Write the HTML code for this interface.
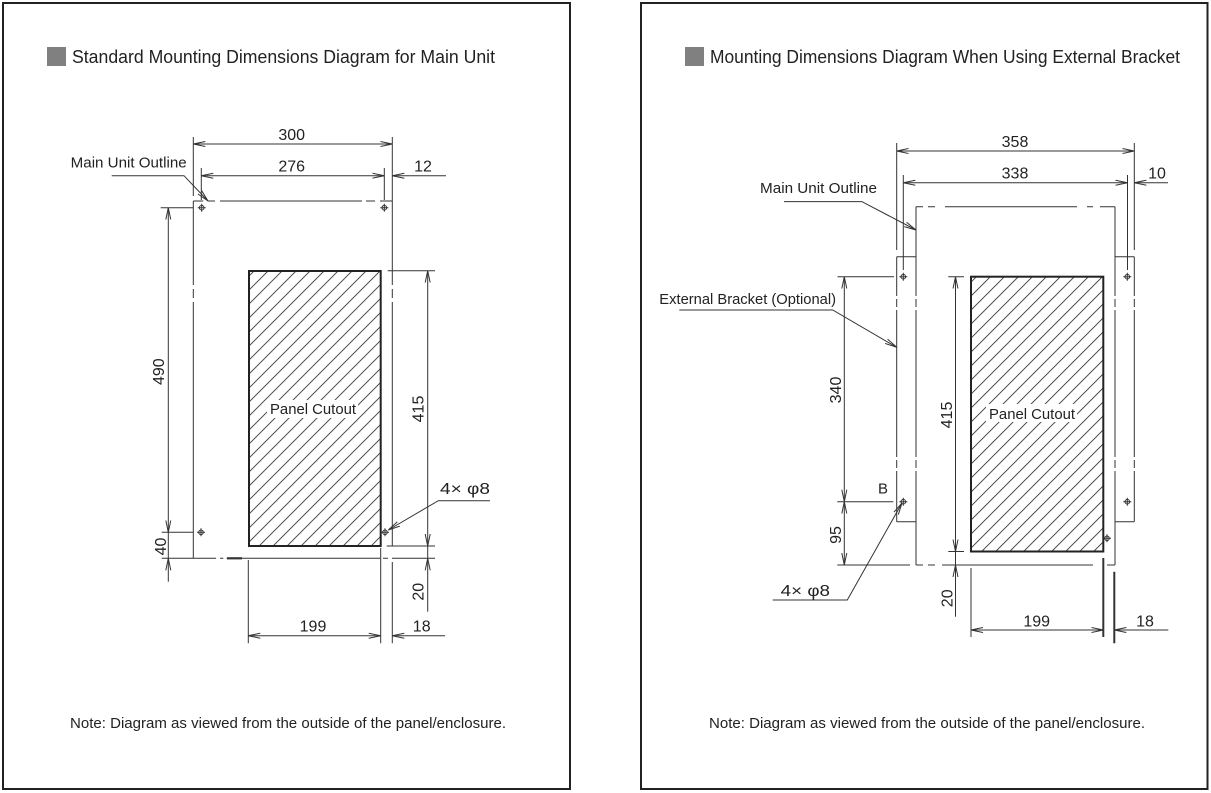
<!DOCTYPE html>
<html><head><meta charset="utf-8"><style>html,body{margin:0;padding:0;background:#fff}svg{display:block}</style></head>
<body>
<svg xmlns="http://www.w3.org/2000/svg" width="1211" height="793" viewBox="0 0 1211 793" font-family="'Liberation Sans', sans-serif" fill="#222">
<defs>
<marker id="ar" markerUnits="userSpaceOnUse" markerWidth="13" markerHeight="8" viewBox="0 0 13 8" refX="12" refY="4" orient="auto-start-reverse">
<path d="M0,1.5 L12,4 L0,6.5" fill="none" stroke="#333" stroke-width="1"/>
</marker>
<pattern id="h" width="9.9" height="10" patternUnits="userSpaceOnUse" patternTransform="rotate(45)">
<line x1="4.95" y1="-1" x2="4.95" y2="11" stroke="#333" stroke-width="0.9"/>
</pattern>
</defs>

<!-- frames -->
<rect x="3" y="3" width="567" height="786" fill="none" stroke="#222" stroke-width="2"/>
<rect x="641" y="3" width="566.5" height="786" fill="none" stroke="#222" stroke-width="2"/>

<!-- titles -->
<rect x="47" y="47" width="19" height="19" fill="#808080"/>
<text x="72" y="63" font-size="18" textLength="423" lengthAdjust="spacingAndGlyphs">Standard Mounting Dimensions Diagram for Main Unit</text>
<rect x="685" y="47" width="19" height="19" fill="#808080"/>
<text x="710" y="63" font-size="18" textLength="470" lengthAdjust="spacingAndGlyphs">Mounting Dimensions Diagram When Using External Bracket</text>

<!-- notes -->
<text x="70" y="728" font-size="15" textLength="436" lengthAdjust="spacingAndGlyphs">Note: Diagram as viewed from the outside of the panel/enclosure.</text>
<text x="709" y="728" font-size="15" textLength="436" lengthAdjust="spacingAndGlyphs">Note: Diagram as viewed from the outside of the panel/enclosure.</text>

<!-- ================= LEFT DIAGRAM ================= -->
<!-- cutout -->
<rect x="249" y="271" width="131.7" height="275" fill="url(#h)"/>
<rect x="267" y="400" width="91" height="18" fill="#fff"/>
<rect x="249" y="271" width="131.7" height="275" fill="none" stroke="#222" stroke-width="2"/>
<text x="270" y="414" font-size="15" textLength="86" lengthAdjust="spacingAndGlyphs">Panel Cutout</text>

<g stroke="#333" stroke-width="1" fill="none">
<!-- outline phantom -->
<path d="M193.3,201H203.3 M208,201H215 M220,201H362 M366,201H375 M380,201H392.3"/>
<path d="M193.3,201V285 M193.3,289V298 M193.3,302V558.3"/>
<path d="M392.3,201V285 M392.3,289V298 M392.3,302V546 M392.3,562V643.3"/>
<path d="M161.7,558.3H216 M220,558.3H223.3 M226.7,558.3H380 M383,558.3H388 M392,558.3H435"/>
<path d="M227,558.3H242" stroke-width="2.2"/>

<!-- top dims -->
<path d="M193.3,137V196 M392.3,137V201 M201.3,168V200 M384.3,168V200"/>
<path d="M193.3,144H392.3" marker-start="url(#ar)" marker-end="url(#ar)"/>
<path d="M201.3,175.7H384.3" marker-start="url(#ar)" marker-end="url(#ar)"/>
<path d="M446,175.7H392.3" marker-end="url(#ar)"/>
<path d="M111.7,175.7H184L208,201" marker-end="url(#ar)"/>

<!-- 490 / 40 -->
<path d="M160.7,207.7H193.3 M161.7,532.3H193.3"/>
<path d="M168.3,207.7V532.3" marker-start="url(#ar)" marker-end="url(#ar)"/>
<path d="M168.3,532.3V558.3"/>
<path d="M168.3,581.7V558.3" marker-end="url(#ar)"/>

<!-- 415 / 20 -->
<path d="M387.7,270.7H435 M386.7,546H435"/>
<path d="M427.7,270.7V546" marker-start="url(#ar)" marker-end="url(#ar)"/>
<path d="M427.7,546V558.3"/>
<path d="M427.7,611.7V558.3" marker-end="url(#ar)"/>

<!-- 199 / 18 -->
<path d="M248.3,560V643.3 M380.7,548V643.3"/>
<path d="M248.3,635.7H380.7" marker-start="url(#ar)" marker-end="url(#ar)"/>
<path d="M445,635.7H392.3" marker-end="url(#ar)"/>

<!-- 4xphi8 leader -->
<path d="M490,500.7H438.3L388.3,530" marker-end="url(#ar)"/>

<!-- holes -->
<circle cx="201.7" cy="207.7" r="2.3"/><path d="M197.7,207.7H205.7M201.7,203.7V211.7"/>
<circle cx="384.3" cy="207.7" r="2.3"/><path d="M380.3,207.7H388.3M384.3,203.7V211.7"/>
<circle cx="201" cy="532.3" r="2.3"/><path d="M197,532.3H205M201,528.3V536.3"/>
<circle cx="385" cy="532.3" r="2.3"/><path d="M381,532.3H389M385,528.3V536.3"/>
</g>

<!-- left labels -->
<text x="70.7" y="167.3" font-size="15" textLength="116" lengthAdjust="spacingAndGlyphs">Main Unit Outline</text>
<g font-size="16" text-anchor="middle">
<text x="291.7" y="140">300</text>
<text x="291.7" y="171.5">276</text>
<text x="423" y="171.5">12</text>
<text x="313" y="631.5">199</text>
<text x="421.7" y="631.5">18</text>
<text transform="translate(158,371.7) rotate(-90)" dy="0.36em">490</text>
<text transform="translate(160,546.5) rotate(-90)" dy="0.36em">40</text>
<text transform="translate(417.7,409) rotate(-90)" dy="0.36em">415</text>
<text transform="translate(417.7,591.7) rotate(-90)" dy="0.36em">20</text>
</g>
<text x="440" y="494" font-size="16" textLength="50" lengthAdjust="spacingAndGlyphs">4× φ8</text>

<!-- ================= RIGHT DIAGRAM ================= -->
<rect x="971" y="276.7" width="132.3" height="274.8" fill="url(#h)"/>
<rect x="986" y="404" width="91" height="18" fill="#fff"/>
<rect x="971" y="276.7" width="132.3" height="274.8" fill="none" stroke="#222" stroke-width="2"/>
<text x="989" y="419" font-size="15" textLength="86" lengthAdjust="spacingAndGlyphs">Panel Cutout</text>

<g stroke="#333" stroke-width="1" fill="none">
<!-- main unit outline phantom -->
<path d="M916,206.7H923 M928,206.7H935 M945,206.7H1077 M1087,206.7H1093 M1100,206.7H1115"/>
<path d="M916,206.7V296 M916,299V307 M916,310V457 M916,460V468 M916,471V565"/>
<path d="M1115,206.7V296 M1115,299V307 M1115,310V457 M1115,460V468 M1115,471V565"/>
<path d="M837.3,565H910 M916,565H923 M928,565H935 M942,565H1093 M1107,565H1115"/>
<!-- brackets -->
<path d="M896.7,256.7V296 M896.7,299V307 M896.7,310V457 M896.7,460V468 M896.7,471V521.7"/>
<path d="M1134.3,256.7V296 M1134.3,299V307 M1134.3,310V457 M1134.3,460V468 M1134.3,471V521.7"/>
<path d="M896.7,256.7H916 M1115,256.7H1134.3 M896.7,521.7H916 M1115,521.7H1134.3"/>

<!-- top dims -->
<path d="M896.7,143V250 M1134.3,143V250 M903.3,175V270 M1127.5,175V270"/>
<path d="M896.7,151H1134.3" marker-start="url(#ar)" marker-end="url(#ar)"/>
<path d="M903.3,182.7H1127.5" marker-start="url(#ar)" marker-end="url(#ar)"/>
<path d="M1168,182.7H1134.3" marker-end="url(#ar)"/>
<path d="M784,201.6H861.8L916,230" marker-end="url(#ar)"/>
<path d="M679.3,310H832.7L896.7,347.3" marker-end="url(#ar)"/>

<!-- 340 / 95 -->
<path d="M837.5,276.7H894 M837.3,501.7H893.3"/>
<path d="M844.3,276.7V501.7" marker-start="url(#ar)" marker-end="url(#ar)"/>
<path d="M844.3,501.7V565" marker-start="url(#ar)" marker-end="url(#ar)"/>

<!-- 415 / 20 -->
<path d="M948.3,276.7H964 M948.3,551.5H964"/>
<path d="M955.5,276.7V551.5" marker-start="url(#ar)" marker-end="url(#ar)"/>
<path d="M955.5,551.5V565"/>
<path d="M955.5,616.7V565" marker-end="url(#ar)"/>

<!-- 199 / 18 -->
<path d="M971,568V637"/>
<path d="M1103.3,558V637 M1114.3,571.7V643.3" stroke-width="2"/>
<path d="M971,630H1103.3" marker-start="url(#ar)" marker-end="url(#ar)"/>
<path d="M1168.3,630H1114.3" marker-end="url(#ar)"/>

<!-- 4xphi8 leader -->
<path d="M772.7,600H847.3L902,503" marker-end="url(#ar)"/>

<!-- holes -->
<circle cx="903.3" cy="276.7" r="2.3"/><path d="M899.3,276.7H907.3M903.3,272.7V280.7"/>
<circle cx="1127.3" cy="276.7" r="2.3"/><path d="M1123.3,276.7H1131.3M1127.3,272.7V280.7"/>
<circle cx="903.3" cy="501.7" r="2.3"/><path d="M899.3,501.7H907.3M903.3,497.7V505.7"/>
<circle cx="1127.3" cy="501.7" r="2.3"/><path d="M1123.3,501.7H1131.3M1127.3,497.7V505.7"/>
<circle cx="1107" cy="538.3" r="2.3"/><path d="M1103,538.3H1111M1107,534.3V542.3"/>
</g>

<!-- right labels -->
<text x="760" y="193" font-size="15" textLength="117" lengthAdjust="spacingAndGlyphs">Main Unit Outline</text>
<text x="659.3" y="304" font-size="15" textLength="176.7" lengthAdjust="spacingAndGlyphs">External Bracket (Optional)</text>
<text x="883" y="493.3" font-size="15" text-anchor="middle">B</text>
<text x="780.7" y="596" font-size="16" textLength="49.3" lengthAdjust="spacingAndGlyphs">4× φ8</text>
<g font-size="16" text-anchor="middle">
<text x="1015" y="147">358</text>
<text x="1015" y="178.5">338</text>
<text x="1157" y="178.5">10</text>
<text x="1036.7" y="626.7">199</text>
<text x="1145" y="626.7">18</text>
<text transform="translate(835,390) rotate(-90)" dy="0.36em">340</text>
<text transform="translate(835,535) rotate(-90)" dy="0.36em">95</text>
<text transform="translate(946,415) rotate(-90)" dy="0.36em">415</text>
<text transform="translate(946.7,598.3) rotate(-90)" dy="0.36em">20</text>
</g>
</svg>
</body></html>
